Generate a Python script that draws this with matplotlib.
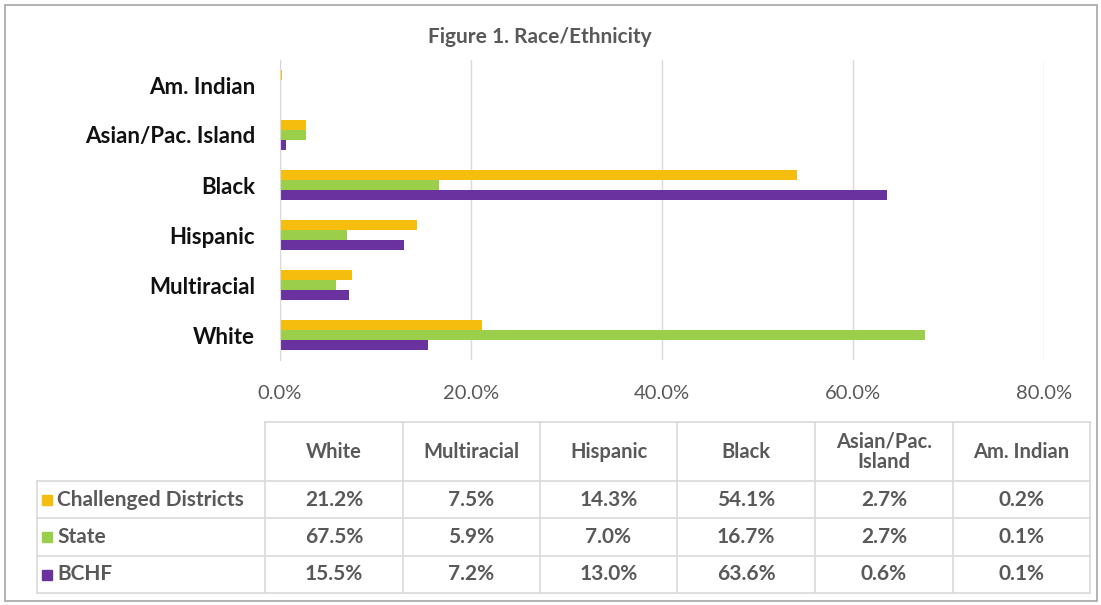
import matplotlib
matplotlib.use("Agg")
import matplotlib.pyplot as plt
from matplotlib.patches import Rectangle

plt.rcParams['font.family'] = ['Lato', 'DejaVu Sans']

# data (table order, left to right)
categories = ['White', 'Multiracial', 'Hispanic', 'Black', 'Asian/Pac. Island', 'Am. Indian']
col_labels = ['White', 'Multiracial', 'Hispanic', 'Black', 'Asian/Pac.\nIsland', 'Am. Indian']
series = ['Challenged Districts', 'State', 'BCHF']
challenged = [21.2, 7.5, 14.3, 54.1, 2.7, 0.2]
state = [67.5, 5.9, 7.0, 16.7, 2.7, 0.1]
bchf = [15.5, 7.2, 13.0, 63.6, 0.6, 0.1]
xticks = [0, 20, 40, 60, 80]

colors = ['#F5BE0E', '#9BCF4B', '#6A329F']
values = [challenged, state, bchf]
offsets = [0.2, 0.0, -0.2]

W, H = 1101, 605
fig = plt.figure(figsize=(W / 100, H / 100), dpi=100)

def fx(px):
    return px / W

def fy(py):
    return 1 - py / H

# outer border
fig.patches.append(Rectangle((fx(5), fy(601)), fx(1092), 596 / H, transform=fig.transFigure,
                             fill=False, edgecolor='#A6A6A6', linewidth=1.2))

fig.text(fx(540), fy(37), 'Figure 1. Race/Ethnicity', ha='center', va='center',
         fontsize=15, fontweight='bold', color='#595959')

# bar chart
ax = fig.add_axes([fx(280), fy(360), fx(1044) - fx(280), (360 - 60) / H])
ypos = list(range(len(categories)))
for vals, col, off in zip(values, colors, offsets):
    ax.barh([y + off for y in ypos], vals, height=0.2, color=col)
ax.set_xlim(0, 80)
ax.set_ylim(-0.5, len(categories) - 0.5)
ax.set_xticks(xticks)
ax.set_xticklabels([f'{t:.1f}%' for t in xticks], fontsize=14.5, color='#595959')
ax.set_yticks(ypos)
ax.set_yticklabels(categories, fontsize=16, fontweight='bold', color='#111111')
ax.tick_params(axis='both', length=0)
ax.tick_params(axis='x', pad=18)
ax.tick_params(axis='y', pad=18)
ax.grid(axis='x', color='#D9D9D9', linewidth=1)
ax.set_axisbelow(True)
for s in ['top', 'right', 'bottom']:
    ax.spines[s].set_visible(False)
ax.spines['left'].set_color('#D9D9D9')

# data table drawn in pixel coordinates
tax = fig.add_axes([0, 0, 1, 1])
tax.set_xlim(0, W)
tax.set_ylim(H, 0)
tax.axis('off')

col_edges = [265, 403, 540, 677, 815, 953, 1090]
row_edges = [422, 481, 518, 556, 593]
label_left = 37
lc = '#D9D9D9'

tax.plot([col_edges[0], col_edges[-1]], [row_edges[0]] * 2, color=lc, lw=1.2)
for r in row_edges[1:]:
    tax.plot([label_left, col_edges[-1]], [r, r], color=lc, lw=1.2)
for c in col_edges:
    tax.plot([c, c], [row_edges[0], row_edges[-1]], color=lc, lw=1.2)
tax.plot([label_left, label_left], [row_edges[1], row_edges[-1]], color=lc, lw=1.2)

tc = '#595959'
for j, lab in enumerate(col_labels):
    cx = (col_edges[j] + col_edges[j + 1]) / 2
    cy = (row_edges[0] + row_edges[1]) / 2
    tax.text(cx, cy, lab, ha='center', va='center', fontsize=14.5, color=tc,
             fontweight='bold', linespacing=1.05)

for i, (name, vals, col) in enumerate(zip(series, values, colors)):
    cy = (row_edges[i + 1] + row_edges[i + 2]) / 2
    tax.add_patch(Rectangle((42, cy - 5), 10, 10, color=col))
    tax.text(57, cy, name, ha='left', va='center', fontsize=15, color=tc, fontweight='bold')
    for j, v in enumerate(vals):
        cx = (col_edges[j] + col_edges[j + 1]) / 2
        tax.text(cx, cy, f'{v:.1f}%', ha='center', va='center', fontsize=15, color=tc,
                 fontweight='bold')

fig.savefig('out.png', dpi=100)
